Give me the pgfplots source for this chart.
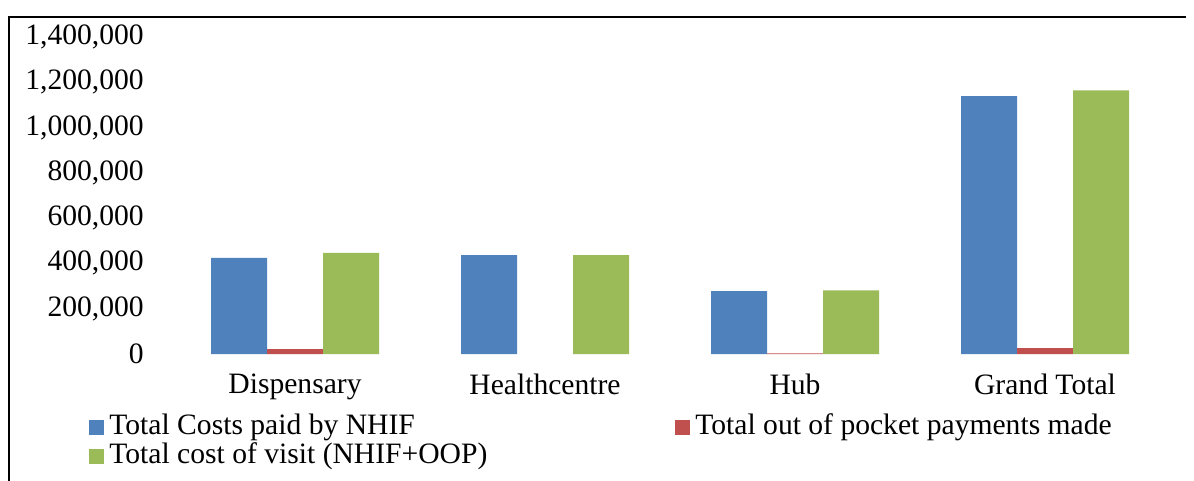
\documentclass[border=0pt]{standalone}
\usepackage{fontspec}
\setmainfont{Liberation Serif}
\usepackage{pgfplots}
\pgfplotsset{compat=1.18}
\definecolor{nhif}{HTML}{4F81BD}
\definecolor{oop}{HTML}{C0504D}
\definecolor{tot}{HTML}{9BBB59}

\begin{document}
\fontsize{14.8}{17}\selectfont
\begin{tikzpicture}[x=1pt,y=1pt]
\useasboundingbox (0,0) rectangle (597,-240.5);
\draw[line width=1pt] (4.5,-240.5) -- (4.5,-8.5) -- (593,-8.5);
\begin{axis}[
  at={(85pt,-177pt)}, anchor=south west,
  scale only axis, width=500pt, height=158.5pt,
  ybar=0pt, bar width=28pt,
  xmin=-0.5, xmax=3.5, ymin=0, ymax=1400000,
  xtick={0,1,2,3},
  xticklabels={Dispensary,Healthcentre,Hub,Grand Total},
  ytick={0,200000,...,1400000},
  scaled y ticks=false,
  /pgf/number format/fixed,
  /pgf/number format/1000 sep={,},
  /pgf/number format/assume math mode=true,
  axis line style={draw=none},
  major tick length=0pt,
  yticklabel style={anchor=east, xshift=-8pt},
  xticklabel style={yshift=-5pt},
  legend columns=2,
  legend cell align=left,
  legend style={at={(-0.081,-0.186)}, anchor=north west, draw=none, fill=none,
    inner sep=0pt, nodes={inner sep=1pt, text height=9.5pt, text depth=3pt}},
  legend image code/.code={\fill[#1] (0pt,-3.75pt) rectangle (7.5pt,3.75pt);
    \path (9pt,0pt);},
]
% Healthcentre has no out-of-pocket bar
\addplot[fill=nhif, draw=none] coordinates {(0,425000) (1,437000) (2,278000) (3,1139000)};
\addplot[fill=oop, draw=none] coordinates {(0,22000) (2,3000) (3,26000)};
\addplot[fill=tot, draw=none] coordinates {(0,447000) (1,437000) (2,281000) (3,1164000)};
\addlegendentry{\makebox[282pt][l]{Total Costs paid by NHIF}}
\addlegendentry{Total out of pocket payments made}
\addlegendentry{Total cost of visit (NHIF+OOP)}
\end{axis}
\end{tikzpicture}
\end{document}
